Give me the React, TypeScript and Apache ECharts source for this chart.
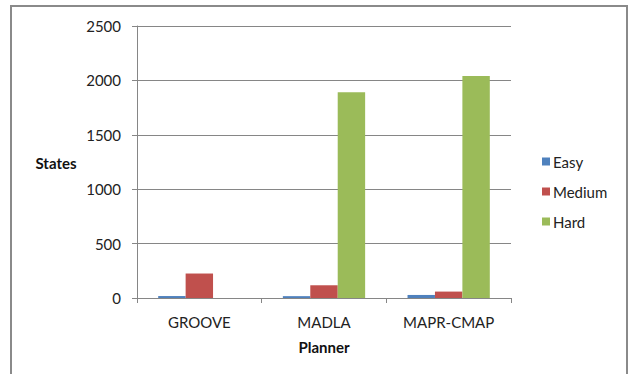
import React, { useEffect, useRef } from "react";
import * as echarts from "echarts";

const planners = ["GROOVE", "MADLA", "MAPR-CMAP"];
const easyStates = [18, 17, 28];
const mediumStates = [225, 117, 59];
const hardStates = [0, 1890, 2040];
const seriesNames = ["Easy", "Medium", "Hard"];
const seriesColors = ["#4F81BD", "#C0504D", "#9BBB59"];

const FONT = "Lato, 'Open Sans', sans-serif";
const AXIS_GRAY = "#868686";

export default function App() {
  const ref = useRef<HTMLDivElement>(null);

  useEffect(() => {
    document.body.style.margin = "0";
    const chart = echarts.init(ref.current!, null, { renderer: "svg" });
    const values = [easyStates, mediumStates, hardStates];
    chart.setOption({
      animation: false,
      backgroundColor: "#ffffff",
      textStyle: { fontFamily: FONT },
      grid: { left: 137, right: 119, top: 26, bottom: 76, containLabel: false },
      legend: {
        orient: "vertical",
        left: 537,
        top: 149,
        itemWidth: 8,
        itemHeight: 8,
        itemGap: 15,
        icon: "rect",
        textStyle: { fontFamily: FONT, fontSize: 15, color: "#222", padding: [0, 0, 0, -2] },
        data: seriesNames,
      },
      xAxis: {
        type: "category",
        data: planners,
        axisLine: { lineStyle: { color: AXIS_GRAY, width: 1 } },
        axisTick: { show: true, length: 5, lineStyle: { color: AXIS_GRAY } },
        axisLabel: { fontFamily: FONT, fontSize: 15, color: "#222", margin: 16 },
        splitLine: { show: false },
      },
      yAxis: {
        type: "value",
        min: 0,
        max: 2500,
        interval: 500,
        axisLine: { show: true, lineStyle: { color: AXIS_GRAY, width: 1 } },
        axisTick: { show: true, length: 5, lineStyle: { color: AXIS_GRAY } },
        axisLabel: {
          fontFamily: FONT,
          fontSize: 15,
          color: "#222",
          margin: 16,
          formatter: (v: number) => String(v),
        },
        splitLine: { show: true, lineStyle: { color: AXIS_GRAY, width: 1 } },
      },
      series: seriesNames.map((name, i) => ({
        name,
        type: "bar",
        data: values[i],
        barGap: "0%",
        barCategoryGap: "34%",
        itemStyle: { color: seriesColors[i] },
      })),
      graphic: [
        {
          type: "rect",
          shape: { x: 11, y: 6, width: 616, height: 380 },
          style: { fill: "none", stroke: "#8a8a8a", lineWidth: 2 },
          z: 100,
        },
        {
          type: "text",
          x: 56,
          y: 163,
          style: {
            text: "States",
            fontFamily: FONT,
            fontSize: 15,
            fontWeight: "bold",
            fill: "#111",
            align: "center",
            verticalAlign: "middle",
          },
        },
        {
          type: "text",
          x: 324,
          y: 347,
          style: {
            text: "Planner",
            fontFamily: FONT,
            fontSize: 15,
            fontWeight: "bold",
            fill: "#111",
            align: "center",
            verticalAlign: "middle",
          },
        },
      ],
    });
    return () => chart.dispose();
  }, []);

  return <div ref={ref} style={{ width: 630, height: 374 }} />;
}
